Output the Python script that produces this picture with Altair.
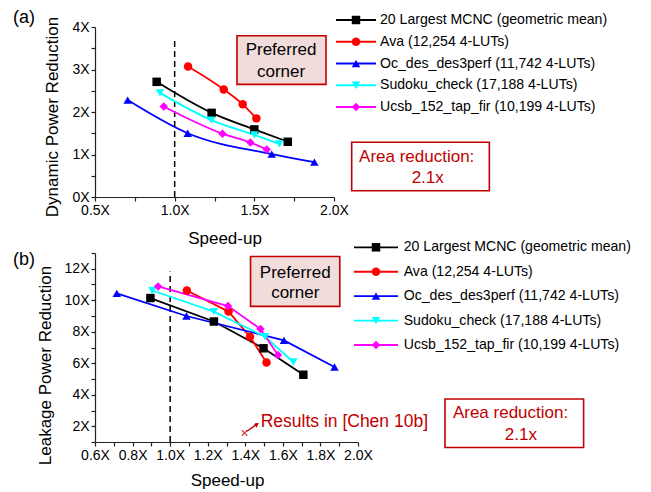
import altair as alt
import pandas as pd

FONT = "Liberation Sans"
RED = "#c00000"

series = [
    "20 Largest MCNC (geometric mean)",
    "Ava (12,254 4-LUTs)",
    "Oc_des_des3perf (11,742 4-LUTs)",
    "Sudoku_check (17,188 4-LUTs)",
    "Ucsb_152_tap_fir (10,199 4-LUTs)",
]
colors = ["#000000", "#ff0000", "#0000ff", "#00ffff", "#ff00ff"]
shapes = ["square", "circle", "triangle-up", "triangle-down", "diamond"]

# ---- panel (a): dynamic power reduction vs speed-up ----
a_mcnc_speed = [0.887, 1.232, 1.500, 1.710]
a_mcnc_dyn = [2.71, 1.98, 1.59, 1.30]
a_ava_speed = [1.084, 1.308, 1.427, 1.513]
a_ava_dyn = [3.07, 2.53, 2.18, 1.85]
a_oc_speed = [0.705, 1.082, 1.609, 1.877]
a_oc_dyn = [2.28, 1.50, 1.01, 0.82]
a_sud_speed = [0.908, 1.230, 1.500, 1.657]
a_sud_dyn = [2.45, 1.81, 1.46, 1.25]
a_ucsb_speed = [0.931, 1.300, 1.475, 1.578]
a_ucsb_dyn = [2.13, 1.49, 1.28, 1.12]

# ---- panel (b): leakage power reduction vs speed-up ----
b_mcnc_speed = [0.895, 1.233, 1.497, 1.709]
b_mcnc_leak = [10.14, 8.65, 6.95, 5.27]
b_ava_speed = [1.089, 1.311, 1.425, 1.513]
b_ava_leak = [10.62, 9.28, 7.68, 6.05]
b_oc_speed = [0.716, 1.087, 1.606, 1.875]
b_oc_leak = [10.44, 9.00, 7.45, 5.76]
b_sud_speed = [0.905, 1.233, 1.505, 1.656]
b_sud_leak = [10.62, 9.28, 7.68, 6.08]
b_ucsb_speed = [0.936, 1.308, 1.481, 1.574]
b_ucsb_leak = [10.88, 9.63, 8.17, 6.53]

a_xticks = [0.5, 0.75, 1.0, 1.25, 1.5, 1.75, 2.0]
a_yticks = [0, 0.5, 1, 1.5, 2, 2.5, 3, 3.5, 4]
b_xticks = [0.6, 0.7, 0.8, 0.9, 1.0, 1.1, 1.2, 1.3, 1.4, 1.5, 1.6, 1.7, 1.8, 1.9, 2.0]
b_yticks = list(range(1, 14))

pref_text = ["Preferred", "corner"]
area_text = ["Area reduction:", "2.1x"]
chen_text = "Results in [Chen 10b]"


def frame(xs, ys):
    rows = []
    for s, xv, yv in zip(series, xs, ys):
        for k, (x, y) in enumerate(zip(xv, yv)):
            rows.append({"series": s, "x": x, "y": y, "k": k})
    return pd.DataFrame(rows)


df_a = frame([a_mcnc_speed, a_ava_speed, a_oc_speed, a_sud_speed, a_ucsb_speed],
             [a_mcnc_dyn, a_ava_dyn, a_oc_dyn, a_sud_dyn, a_ucsb_dyn])
df_b = frame([b_mcnc_speed, b_ava_speed, b_oc_speed, b_sud_speed, b_ucsb_speed],
             [b_mcnc_leak, b_ava_leak, b_oc_leak, b_sud_leak, b_ucsb_leak])

color = alt.Color("series:N", scale=alt.Scale(domain=series, range=colors), legend=None)
shape = alt.Shape("series:N", scale=alt.Scale(domain=series, range=shapes), legend=None)


def panel(df, width, height, xdom, ydom, xvals, yvals, xlab, ylab, ytitle,
          xtitle_pos, ytitle_pos, dash_top, pref, area, area_lines, tag,
          leg_xr, leg_yr, leg_dx, interp, extra=None):
    xs = alt.Scale(domain=xdom, nice=False, zero=False)
    ys = alt.Scale(domain=ydom, nice=False, zero=False)
    xaxis = alt.Axis(values=xvals, labelExpr=xlab, title="Speed-up",
                     titleX=xtitle_pos[0], titleY=xtitle_pos[1], titleBaseline="middle",
                     labelOverlap=False, labelFlush=False)
    yaxis = alt.Axis(values=yvals, labelExpr=ylab, title=ytitle,
                     titleX=ytitle_pos[0], titleY=ytitle_pos[1], titleBaseline="middle",
                     labelOverlap=False, labelFlush=False)

    def X(f):
        return alt.X(f, type="quantitative", scale=xs, axis=xaxis)

    def Y(f):
        return alt.Y(f, type="quantitative", scale=ys, axis=yaxis)

    base = alt.Chart(df)
    lines = base.mark_line(interpolate=interp, strokeWidth=1.8).encode(
        x=X("x"), y=Y("y"), color=color, order="k:Q")
    pts = base.mark_point(filled=True, size=72, opacity=1).encode(
        x=X("x"), y=Y("y"), color=color, shape=shape)

    dash = alt.Chart(pd.DataFrame({"x": [1.0], "y0": [ydom[0]], "y1": [dash_top]})).mark_rule(
        strokeDash=[6, 4], strokeWidth=1.5, color="black").encode(x=X("x"), y=Y("y0"), y2="y1")

    pref_df = pd.DataFrame([pref])
    pref_box = alt.Chart(pref_df).mark_rect(fill="#f2dcdb", stroke=RED, strokeWidth=1.6).encode(
        x=X("x0"), x2="x1", y=Y("y0"), y2="y1")
    pref_lbl = alt.Chart(pd.DataFrame({"t": pref_text, "x": [pref["tx"]] * 2, "y": pref["ty"]})).mark_text(
        fontSize=17, font=FONT, color="black").encode(x=X("x"), y=Y("y"), text="t:N")

    area_df = pd.DataFrame([area])
    area_box = alt.Chart(area_df).mark_rect(fill="white", stroke=RED, strokeWidth=1.6).encode(
        x=X("x0"), x2="x1", y=Y("y0"), y2="y1")
    area_lbl = alt.Chart(pd.DataFrame({"t": area_text, "x": area_lines[0], "y": area_lines[1]})).mark_text(
        fontSize=17, font=FONT, color=RED).encode(x=X("x"), y=Y("y"), text="t:N")

    tag_lbl = alt.Chart(pd.DataFrame({"t": [tag[0]], "x": [tag[1]], "y": [tag[2]]})).mark_text(
        fontSize=18, font=FONT, color="black", align="left").encode(x=X("x"), y=Y("y"), text="t:N")

    layers = [pref_box, pref_lbl, area_box, area_lbl, dash, lines, pts, tag_lbl]
    if extra is not None:
        layers += extra(X, Y)
    main = alt.layer(*layers)

    leg = alt.Chart(pd.DataFrame({"series": series}))
    lx = alt.Scale(domain=[0, 1], range=leg_xr)
    ly = alt.Scale(type="point", domain=series, range=leg_yr, padding=0)
    lenc_y = alt.Y("series:N", scale=ly, axis=None)
    lrule = leg.mark_rule(strokeWidth=1.8).encode(
        x=alt.XDatum(0, scale=lx, axis=None), x2=alt.X2Datum(1), y=lenc_y, color=color)
    lpt = leg.mark_point(filled=True, size=72, opacity=1).encode(
        x=alt.XDatum(0.5, scale=lx, axis=None), y=lenc_y, color=color, shape=shape)
    ltxt = leg.mark_text(align="left", dx=leg_dx, fontSize=14.1, font=FONT, color="black").encode(
        x=alt.XDatum(1, scale=lx, axis=None), y=lenc_y, text="series:N")
    legend = alt.layer(lrule, lpt, ltxt)

    return alt.layer(main, legend).resolve_scale(x="independent", y="independent").properties(
        width=width, height=height)


def chen_layers(X, Y):
    cross = alt.Chart(pd.DataFrame({"x": [1.396], "y": [1.57]})).mark_point(
        shape="M-1,-1L1,1M-1,1L1,-1", filled=False, size=30, strokeWidth=1.3, color=RED).encode(
        x=X("x"), y=Y("y"))
    arrow = alt.Chart(pd.DataFrame({"x": [1.408], "y": [1.68], "x2": [1.462], "y2": [2.13]})).mark_rule(
        strokeWidth=1.4, color=RED).encode(x=X("x"), y=Y("y"), x2="x2", y2="y2")
    head = alt.Chart(pd.DataFrame({"x": [1.462], "y": [2.13]})).mark_point(
        shape="triangle-up", angle=55, filled=True, size=28, opacity=1, color=RED).encode(
        x=X("x"), y=Y("y"))
    lbl = alt.Chart(pd.DataFrame({"t": [chen_text], "x": [1.482], "y": [2.27]})).mark_text(
        align="left", fontSize=17.5, font=FONT, color=RED).encode(x=X("x"), y=Y("y"), text="t:N")
    return [arrow, head, cross, lbl]


pa = panel(
    df_a, 239, 170, [0.5, 2.0], [0, 4], a_xticks, a_yticks,
    "abs(datum.value*2 - round(datum.value*2)) < 0.001 ? format(datum.value, '.1f') + 'X' : ''",
    "datum.value % 1 === 0 ? format(datum.value, 'd') + 'X' : ''",
    "Dynamic Power Reduction",
    (129.5, 41.7), (-43, 89.5), 3.72,
    {"x0": 1.391, "x1": 1.95, "y0": 3.795, "y1": 2.65, "tx": 1.668, "ty": [3.46, 2.95]},
    {"x0": 2.111, "x1": 2.975, "y0": 1.287, "y1": 0.148},
    ([2.519, 2.588], [0.948, 0.44]),
    ("(a)", -0.015, 4.21),
    [241, 281], [-7, 80], 4, "monotone",
)

pb = panel(
    df_b, 263, 189, [0.6, 2.0], [1, 13], b_xticks, b_yticks,
    "round(datum.value*10) % 2 === 0 ? format(datum.value, '.1f') + 'X' : ''",
    "datum.value % 2 === 0 ? datum.value + 'X' : ''",
    "Leakage Power Reduction",
    (132, 38), (-50, 112), 11.83,
    {"x0": 1.428, "x1": 1.903, "y0": 12.78, "y1": 9.61, "tx": 1.666, "ty": [11.73, 10.46]},
    {"x0": 2.463, "x1": 3.201, "y0": 3.727, "y1": 0.654},
    ([2.812, 2.867], [2.838, 1.46]),
    ("(b)", 0.163, 12.57),
    [259, 303], [-5.7, 92], 5.7, "linear",
    extra=chen_layers,
)

chart = alt.vconcat(pa, pb, spacing=56, bounds="flush").properties(
    padding={"left": 4, "top": 1, "right": 0, "bottom": 2}
).configure_view(stroke=None).configure_axis(
    labelFont=FONT, titleFont=FONT, labelFontSize=14, titleFontSize=17,
    titleFontWeight="normal", labelColor="black", titleColor="black",
    domainColor="#222222", tickColor="#222222", grid=False, tickSize=4, labelPadding=2,
    domainWidth=1.2, tickWidth=1.2,
)

chart.save("out.html", embed_options={"renderer": "svg", "actions": False})
